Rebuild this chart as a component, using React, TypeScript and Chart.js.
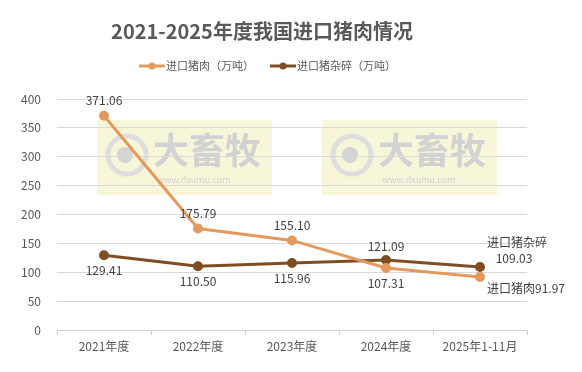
import React, { useEffect, useRef } from "react";
import { Chart, registerables } from "chart.js";
Chart.register(...registerables);

const TITLE = "2021-2025年度我国进口猪肉情况";
const categories = ["2021年度", "2022年度", "2023年度", "2024年度", "2025年1-11月"];
const porkName = "进口猪肉（万吨）";
const offalName = "进口猪杂碎（万吨）";
const porkValues = [371.06, 175.79, 155.1, 107.31, 91.97];
const offalValues = [129.41, 110.5, 115.96, 121.09, 109.03];
const porkColor = "#E39A5E";
const offalColor = "#7E4E22";
const FONT = "'Noto Sans CJK SC', 'Noto Sans', sans-serif";

export default function App() {
  const ref = useRef<HTMLCanvasElement>(null);
  useEffect(() => {
    document.body.style.margin = "0";
    const canvas = ref.current!;
    const decor = {
      id: "decor",
      beforeDraw(chart: any) {
        const ctx = chart.ctx;
        ctx.save();
        const boxes = [97, 322];
        for (const bx of boxes) {
          ctx.fillStyle = "rgba(244,240,190,0.6)";
          ctx.fillRect(bx, 120, 175, 75);
          ctx.strokeStyle = "#dedede";
          ctx.lineWidth = 5;
          ctx.beginPath();
          ctx.arc(bx + 30, 155, 19, 0, Math.PI * 2);
          ctx.stroke();
          ctx.fillStyle = "#d4d4d4";
          ctx.beginPath();
          ctx.arc(bx + 28, 155, 8, 0, Math.PI * 2);
          ctx.fill();
          ctx.fillStyle = "#d2d2d2";
          ctx.font = `bold 36px ${FONT}`;
          ctx.textBaseline = "middle";
          ctx.textAlign = "left";
          ctx.fillText("大畜牧", bx + 56, 150);
          ctx.font = `9px ${FONT}`;
          ctx.fillText("www.dxumu.com", bx + 60, 180);
        }
        ctx.restore();
      },
      afterDraw(chart: any) {
        const ctx = chart.ctx;
        ctx.save();
        // title
        ctx.fillStyle = "#595959";
        ctx.font = `bold 20px ${FONT}`;
        ctx.textAlign = "center";
        ctx.textBaseline = "middle";
        ctx.fillText(TITLE, 262, 31);
        // legend
        ctx.font = `11px ${FONT}`;
        ctx.textAlign = "left";
        const items = [
          { x: 139, name: porkName, color: porkColor },
          { x: 270, name: offalName, color: offalColor },
        ];
        for (const it of items) {
          ctx.strokeStyle = it.color;
          ctx.lineWidth = 3;
          ctx.beginPath();
          ctx.moveTo(it.x, 66);
          ctx.lineTo(it.x + 26, 66);
          ctx.stroke();
          ctx.fillStyle = it.color;
          ctx.beginPath();
          ctx.arc(it.x + 13, 66, 3.5, 0, Math.PI * 2);
          ctx.fill();
          ctx.fillStyle = "#595959";
          ctx.fillText(it.name, it.x + 27, 66);
        }
        // data labels
        ctx.fillStyle = "#404040";
        ctx.font = `12px ${FONT}`;
        const pm = chart.getDatasetMeta(0).data;
        const om = chart.getDatasetMeta(1).data;
        const fmt = (v: number) => v.toFixed(2);
        ctx.textAlign = "center";
        for (let i = 0; i < 4; i++) {
          const p = pm[i];
          const above = i < 3;
          ctx.fillText(fmt(porkValues[i]), p.x, p.y + (above ? -15 : 15));
          const o = om[i];
          const oAbove = i === 3;
          ctx.fillText(fmt(offalValues[i]), o.x, o.y + (oAbove ? -14 : 15));
        }
        const pl = pm[4];
        ctx.textAlign = "left";
        ctx.fillText("进口猪肉" + fmt(porkValues[4]), pl.x + 7, pl.y + 12);
        const ol = om[4];
        ctx.fillText("进口猪杂碎", ol.x + 7, ol.y - 25);
        ctx.textAlign = "center";
        ctx.fillText(fmt(offalValues[4]), ol.x + 34, ol.y - 9);
        ctx.restore();
      },
    };
    const chart = new Chart(canvas, {
      type: "line",
      data: {
        labels: categories,
        datasets: [
          {
            label: porkName,
            data: porkValues,
            borderColor: porkColor,
            backgroundColor: porkColor,
            borderWidth: 3,
            pointRadius: 3.5,
            pointBackgroundColor: porkColor,
            pointBorderColor: porkColor,
            tension: 0,
          },
          {
            label: offalName,
            data: offalValues,
            borderColor: offalColor,
            backgroundColor: offalColor,
            borderWidth: 3,
            pointRadius: 3.5,
            pointBackgroundColor: offalColor,
            pointBorderColor: offalColor,
            tension: 0,
          },
        ],
      },
      options: {
        animation: false,
        responsive: false,
        devicePixelRatio: 1,
        layout: { padding: { top: 99, right: 55, left: 0, bottom: 0 } },
        plugins: {
          legend: { display: false },
          title: { display: false },
          tooltip: { enabled: false },
        },
        scales: {
          x: {
            offset: true,
            grid: {
              offset: true,
              drawOnChartArea: false,
              drawTicks: true,
              tickLength: 5,
              color: "#d0d0d0",
            },
            border: { color: "#d0d0d0" },
            ticks: { color: "#595959", font: { size: 12, family: FONT }, padding: 4, maxRotation: 0 },
            afterFit: (s: any) => { s.height = 42; },
          },
          y: {
            min: 0,
            max: 400,
            ticks: { stepSize: 50, color: "#595959", font: { size: 12, family: FONT }, padding: 16 },
            grid: { color: "#d9d9d9", drawTicks: false },
            border: { display: false },
            afterFit: (s: any) => { s.width = 57; },
          },
        },
      },
      plugins: [decor],
    });
    return () => chart.destroy();
  }, []);
  return <canvas ref={ref} width={582} height={372} style={{ display: "block" }} />;
}
